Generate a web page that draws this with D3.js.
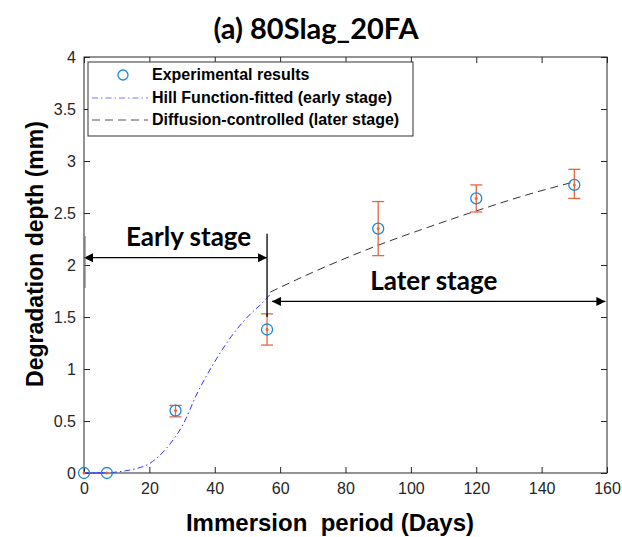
<!DOCTYPE html>
<html>
<head>
<meta charset="utf-8">
<script src="https://cdn.jsdelivr.net/npm/d3@7"></script>
<style>
  body { margin: 0; background: #fff; }
  text { font-family: "Liberation Sans", Arial, sans-serif; }
</style>
</head>
<body>
<div id="chart"></div>
<script>
// experimental points (days, mm) with error half-widths
var days = [0, 7, 28, 56, 90, 120, 150];
var depth = [0, 0, 0.6, 1.38, 2.35, 2.64, 2.77];
var errLow = [0, 0, 0.06, 0.15, 0.26, 0.13, 0.13];
var errHigh = [0, 0, 0.05, 0.15, 0.26, 0.13, 0.15];

// Hill function fit (early stage)
var hillX = [0, 7, 10, 15, 20, 25, 30, 35, 40, 45, 50, 55, 57];
var hillY = [0, 0, 0.01, 0.035, 0.09, 0.23, 0.45, 0.79, 1.07, 1.31, 1.5, 1.65, 1.72];

// diffusion-controlled fit (later stage)
var diffX = [57, 70, 90, 105, 120, 135, 150];
var diffY = [1.74, 1.93, 2.19, 2.36, 2.52, 2.67, 2.8];

var xTicks = [0, 20, 40, 60, 80, 100, 120, 140, 160];
var yTicks = [0, 0.5, 1, 1.5, 2, 2.5, 3, 3.5, 4];

var legendLabels = ["Experimental results", "Hill Function-fitted (early stage)", "Diffusion-controlled (later stage)"];

var W = 622, H = 537;
var margin = {top: 57, right: 15, bottom: 64, left: 84};
var width = W - margin.left - margin.right,
    height = H - margin.top - margin.bottom;

var svg = d3.select("#chart").append("svg")
    .attr("width", W)
    .attr("height", H);

var g = svg.append("g")
    .attr("transform", "translate(" + margin.left + "," + margin.top + ")");

var x = d3.scaleLinear().domain([0, 160]).range([0, width]);
var y = d3.scaleLinear().domain([0, 4]).range([height, 0]);

var axisColor = "#262626";
var fmt = function (d) { return String(d); };

// axes, MATLAB style ticks inward, box on
g.append("g")
    .attr("transform", "translate(0," + height + ")")
    .call(d3.axisBottom(x).tickValues(xTicks).tickSize(-6).tickPadding(10).tickFormat(fmt))
    .call(function (a) {
        a.select(".domain").remove();
        a.selectAll("line").attr("stroke", axisColor);
        a.selectAll("text").attr("font-size", "16px").attr("fill", axisColor);
    });
g.append("g")
    .call(d3.axisLeft(y).tickValues(yTicks).tickSize(-6).tickPadding(8).tickFormat(fmt))
    .call(function (a) {
        a.select(".domain").remove();
        a.selectAll("line").attr("stroke", axisColor);
        a.selectAll("text").attr("font-size", "16px").attr("fill", axisColor);
    });
g.append("g")
    .call(d3.axisTop(x).tickValues(xTicks).tickSize(-6).tickFormat(""))
    .call(function (a) {
        a.select(".domain").remove();
        a.selectAll("line").attr("stroke", axisColor);
    });
g.append("g")
    .attr("transform", "translate(" + width + ",0)")
    .call(d3.axisRight(y).tickValues(yTicks).tickSize(-6).tickFormat(""))
    .call(function (a) {
        a.select(".domain").remove();
        a.selectAll("line").attr("stroke", axisColor);
    });
g.append("rect")
    .attr("width", width)
    .attr("height", height)
    .attr("fill", "none")
    .attr("stroke", axisColor)
    .attr("stroke-width", 1);

// fitted curves
var line = d3.line()
    .x(function (d) { return x(d[0]); })
    .y(function (d) { return y(d[1]); })
    .curve(d3.curveMonotoneX);

g.append("path")
    .datum(d3.zip(hillX, hillY))
    .attr("d", line)
    .attr("fill", "none")
    .attr("stroke", "#3333ff")
    .attr("stroke-width", 1)
    .attr("stroke-dasharray", "6,3,1.5,3");

g.append("path")
    .datum(d3.zip(diffX, diffY))
    .attr("d", line)
    .attr("fill", "none")
    .attr("stroke", "#333")
    .attr("stroke-width", 1)
    .attr("stroke-dasharray", "8,5");

// error bars
var errColor = "#e8663d";
var pts = days.map(function (d, i) {
    return {x: d, y: depth[i], lo: depth[i] - errLow[i], hi: depth[i] + errHigh[i]};
});
var eb = g.append("g").selectAll("g")
    .data(pts.filter(function (p) { return p.hi > p.lo; }))
    .enter().append("g")
    .attr("stroke", errColor)
    .attr("stroke-width", 1.3);
eb.append("line")
    .attr("x1", function (d) { return x(d.x); })
    .attr("x2", function (d) { return x(d.x); })
    .attr("y1", function (d) { return y(d.lo); })
    .attr("y2", function (d) { return y(d.hi); });
eb.append("line")
    .attr("x1", function (d) { return x(d.x) - 6; })
    .attr("x2", function (d) { return x(d.x) + 6; })
    .attr("y1", function (d) { return y(d.lo); })
    .attr("y2", function (d) { return y(d.lo); });
eb.append("line")
    .attr("x1", function (d) { return x(d.x) - 6; })
    .attr("x2", function (d) { return x(d.x) + 6; })
    .attr("y1", function (d) { return y(d.hi); })
    .attr("y2", function (d) { return y(d.hi); });

// line joining the two zero points (errorbar series line)
g.append("line")
    .attr("x1", x(days[0])).attr("x2", x(days[1]))
    .attr("y1", y(depth[0])).attr("y2", y(depth[1]))
    .attr("stroke", "#3333ff").attr("stroke-width", 1);

g.append("g").selectAll("circle.dot")
    .data(pts)
    .enter().append("circle")
    .attr("cx", function (d) { return x(d.x); })
    .attr("cy", function (d) { return y(d.y); })
    .attr("r", 1.5)
    .attr("fill", errColor);

g.append("g").selectAll("circle.mk")
    .data(pts)
    .enter().append("circle")
    .attr("cx", function (d) { return x(d.x); })
    .attr("cy", function (d) { return y(d.y); })
    .attr("r", 5.5)
    .attr("fill", "none")
    .attr("stroke", "#1a8ad6")
    .attr("stroke-width", 1.3);

// stage annotations
var defs = svg.append("defs");
["start", "end"].forEach(function (k) {
    defs.append("marker")
        .attr("id", "arr-" + k)
        .attr("viewBox", "0 0 10 10")
        .attr("refX", 10).attr("refY", 5)
        .attr("markerWidth", 11).attr("markerHeight", 9)
        .attr("markerUnits", "userSpaceOnUse")
        .attr("orient", k === "start" ? "auto-start-reverse" : "auto")
        .append("path")
        .attr("d", "M0,0 L10,5 L0,10 z")
        .attr("fill", "#000");
});

var stageFont = "Lato, 'Open Sans', sans-serif";

g.append("line")
    .attr("x1", x(0)).attr("x2", x(56))
    .attr("y1", y(2.07)).attr("y2", y(2.07))
    .attr("stroke", "#000").attr("stroke-width", 1.3)
    .attr("marker-start", "url(#arr-start)")
    .attr("marker-end", "url(#arr-end)");
g.append("line")
    .attr("x1", x(56)).attr("x2", x(56))
    .attr("y1", y(2.3)).attr("y2", y(1.5))
    .attr("stroke", "#000").attr("stroke-width", 1.3);
g.append("line")
    .attr("x1", x(0) + 1).attr("x2", x(0) + 1)
    .attr("y1", y(2.28)).attr("y2", y(1.78))
    .attr("stroke", "#777").attr("stroke-width", 1.2);
g.append("text")
    .attr("x", x(32)).attr("y", y(2.18))
    .attr("text-anchor", "middle")
    .style("font-family", stageFont)
    .style("font-weight", "bold")
    .style("font-size", "26px")
    .text("Early stage");

g.append("line")
    .attr("x1", x(57.5)).attr("x2", x(159.5))
    .attr("y1", y(1.65)).attr("y2", y(1.65))
    .attr("stroke", "#000").attr("stroke-width", 1.3)
    .attr("marker-start", "url(#arr-start)")
    .attr("marker-end", "url(#arr-end)");
g.append("text")
    .attr("x", x(107)).attr("y", y(1.76))
    .attr("text-anchor", "middle")
    .style("font-family", stageFont)
    .style("font-weight", "bold")
    .style("font-size", "26px")
    .text("Later stage");

// legend
var lg = g.append("g").attr("transform", "translate(4,5)");
lg.append("rect")
    .attr("width", 325).attr("height", 74)
    .attr("fill", "#fff")
    .attr("stroke", "#333").attr("stroke-width", 1);
var rowY = [13, 36, 58];
lg.append("circle")
    .attr("cx", 35).attr("cy", rowY[0]).attr("r", 5)
    .attr("fill", "none").attr("stroke", "#1a8ad6").attr("stroke-width", 1.3);
lg.append("line")
    .attr("x1", 4).attr("x2", 60).attr("y1", rowY[1]).attr("y2", rowY[1])
    .attr("stroke", "#7777ff").attr("stroke-dasharray", "6,3,1.5,3");
lg.append("line")
    .attr("x1", 4).attr("x2", 60).attr("y1", rowY[2]).attr("y2", rowY[2])
    .attr("stroke", "#555").attr("stroke-dasharray", "8,5");
lg.selectAll("text")
    .data(legendLabels)
    .enter().append("text")
    .attr("x", 64)
    .attr("y", function (d, i) { return rowY[i] + 5; })
    .style("font-weight", "bold")
    .style("font-size", "16px")
    .text(function (d) { return d; });

// titles
svg.append("text")
    .attr("x", 316).attr("y", 39)
    .attr("text-anchor", "middle")
    .style("font-family", stageFont)
    .style("font-weight", "bold")
    .style("font-size", "29px")
    .text("(a) 80Slag_20FA");

svg.append("text")
    .attr("x", 330).attr("y", 531)
    .attr("text-anchor", "middle")
    .style("font-weight", "bold")
    .style("font-size", "24px")
    .style("white-space", "pre")
    .attr("xml:space", "preserve")
    .text("Immersion  period (Days)");

svg.append("text")
    .attr("transform", "translate(43,254) rotate(-90)")
    .attr("text-anchor", "middle")
    .style("font-weight", "bold")
    .style("font-size", "23px")
    .text("Degradation depth (mm)");
</script>
</body>
</html>
